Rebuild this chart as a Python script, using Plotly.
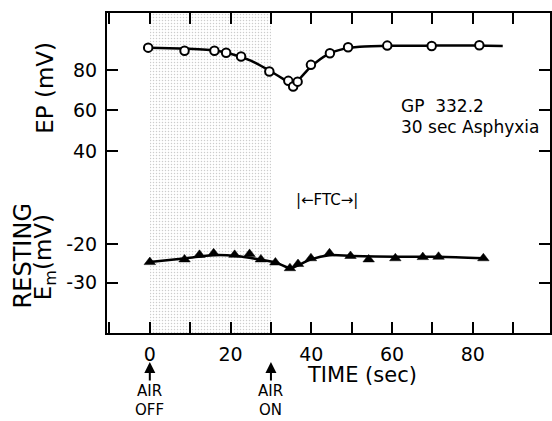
import plotly.graph_objects as go

# ---------------- data ----------------
# Endocochlear potential (EP, mV) - open circles
ep_time = [-0.4, 8.6, 16.0, 18.9, 22.6, 29.6, 34.3, 35.5, 36.6, 39.9, 44.6, 49.1, 58.8, 69.8, 81.6]
ep_val = [91.0, 89.5, 89.5, 88.5, 86.6, 79.2, 74.6, 71.8, 74.2, 82.5, 88.2, 91.2, 92.0, 91.8, 92.2]
# smooth fitted EP curve
ep_curve_time = [-0.4, 8, 16, 20, 25, 30, 33, 35.4, 37, 40, 44, 48, 52, 60, 70, 80, 87.4]
ep_curve_val = [91.0, 90.6, 89.6, 88.0, 84.6, 79.2, 75.6, 72.6, 75.4, 81.8, 87.6, 90.4, 91.4, 91.9, 92.0, 92.0, 91.8]

# Resting membrane potential (Em, mV) - filled triangles
em_time = [0.0, 8.6, 12.3, 15.8, 21.0, 24.7, 27.5, 31.1, 34.7, 36.7, 39.9, 44.5, 49.7, 54.2, 60.8, 67.6, 71.5, 82.6]
em_val = [-24.6, -23.9, -22.7, -22.3, -22.7, -22.5, -23.9, -24.7, -26.2, -25.1, -23.6, -22.3, -23.0, -23.9, -23.6, -23.3, -23.2, -23.6]
# smooth fitted Em curve
em_curve_time = [0.0, 9, 15.6, 21.4, 27.1, 31.2, 34.9, 37, 39.9, 44.4, 50.1, 60.8, 71.5, 82.6]
em_curve_val = [-24.6, -23.6, -22.8, -23.0, -23.9, -24.7, -26.2, -25.3, -23.9, -22.8, -23.0, -23.2, -23.2, -23.6]

# asphyxia period (air off -> air on), seconds
asphyxia = [0, 30]

x_major_dtick = 20
x_minor_dtick = 10
ep_tickvals = [40, 60, 80]
ep_ticktext = ["40", "60", "80"]
em_tickvals = [-20, -30]
em_ticktext = ["-20", "-30"]

# ---------------- layout geometry ----------------
W, H = 552, 421
ML, MR, MT, MB = 107, 0, 13, 88
PW = W - ML - MR
PH = H - MT - MB
X_RANGE = [-10.6, 99.1]
EP_RANGE = [-49.9, 108.1]
EM_RANGE = [-43.1, 40.4]
FONT = "DejaVu Sans"


def px_x(px):
    return (px - ML) / PW


def px_y(py):
    return (H - MB - py) / PH


fig = go.Figure()

# shaded asphyxia period (stippled)
fig.add_trace(go.Bar(
    x=[(asphyxia[0] + asphyxia[1]) / 2], width=[asphyxia[1] - asphyxia[0]],
    y=[EP_RANGE[1] - EP_RANGE[0]], base=[EP_RANGE[0]],
    marker=dict(color="white", line_width=0,
                pattern=dict(shape=".", fgcolor="#9a9a9a", bgcolor="white",
                             size=3, solidity=0.2)),
    yaxis="y", showlegend=False, hoverinfo="skip"))

# EP curve + points
fig.add_trace(go.Scatter(x=ep_curve_time, y=ep_curve_val, mode="lines",
                         line=dict(color="black", width=2.5, shape="spline", smoothing=0.8),
                         yaxis="y", showlegend=False, hoverinfo="skip"))
fig.add_trace(go.Scatter(x=ep_time, y=ep_val, mode="markers",
                         marker=dict(symbol="circle", size=8.5, color="white",
                                     line=dict(color="black", width=2)),
                         yaxis="y", showlegend=False))

# Em curve + points
fig.add_trace(go.Scatter(x=em_curve_time, y=em_curve_val, mode="lines",
                         line=dict(color="black", width=2.5, shape="spline", smoothing=0.8),
                         yaxis="y2", showlegend=False, hoverinfo="skip"))
fig.add_trace(go.Scatter(x=em_time, y=em_val, mode="markers",
                         marker=dict(symbol="triangle-up", size=10, color="black",
                                     line=dict(color="black", width=0.5)),
                         yaxis="y2", showlegend=False))

axis_common = dict(showline=True, linecolor="black", linewidth=2, mirror="ticks",
                   ticks="inside", ticklen=11, tickwidth=2, tickcolor="black",
                   showgrid=False, zeroline=False,
                   tickfont=dict(family=FONT, size=19, color="black"))

txt = dict(family=FONT, color="black")

annotations = [
    # axis titles
    dict(text="EP (mV)", x=px_x(44), y=px_y(87.5), xref="paper", yref="paper",
         textangle=-90, showarrow=False, xanchor="center", yanchor="middle",
         font=dict(size=23, **txt)),
    dict(text="RESTING", x=px_x(23), y=px_y(256), xref="paper", yref="paper",
         textangle=-90, showarrow=False, xanchor="center", yanchor="middle",
         font=dict(size=24, **txt)),
    dict(text="E<sub>m</sub>(mV)", x=px_x(45), y=px_y(257), xref="paper", yref="paper",
         textangle=-90, showarrow=False, xanchor="center", yanchor="middle",
         font=dict(size=23, **txt)),
    dict(text="TIME (sec)", x=px_x(363), y=px_y(375), xref="paper", yref="paper",
         showarrow=False, xanchor="center", yanchor="middle",
         font=dict(size=21, **txt)),
    # experiment label
    dict(text="GP\u00a0\u00a0332.2", x=61.6, y=62.2, xref="x", yref="y",
         showarrow=False, xanchor="left", yanchor="middle",
         font=dict(size=17, **txt)),
    dict(text="30 sec Asphyxia", x=61.6, y=51.9, xref="x", yref="y",
         showarrow=False, xanchor="left", yanchor="middle",
         font=dict(size=17, **txt)),
    # FTC
    dict(text="|\u2190FTC\u2192|", x=43.8, y=15.8, xref="x", yref="y",
         showarrow=False, xanchor="center", yanchor="middle",
         font=dict(size=15, **txt)),
    # air off / air on arrows (arrow from the "AIR" word up to the axis)
    dict(text="AIR", x=asphyxia[0], y=px_y(362), xref="x", yref="paper",
         showarrow=True, ax=0, ay=29, arrowhead=2, arrowsize=1.1, arrowwidth=2,
         arrowcolor="black", standoff=0, font=dict(size=15, **txt)),
    dict(text="OFF", x=asphyxia[0], y=px_y(410), xref="x", yref="paper",
         showarrow=False, xanchor="center", yanchor="middle", font=dict(size=15, **txt)),
    dict(text="AIR", x=asphyxia[1], y=px_y(362), xref="x", yref="paper",
         showarrow=True, ax=0, ay=29, arrowhead=2, arrowsize=1.1, arrowwidth=2,
         arrowcolor="black", standoff=0, font=dict(size=15, **txt)),
    dict(text="ON", x=asphyxia[1], y=px_y(410), xref="x", yref="paper",
         showarrow=False, xanchor="center", yanchor="middle", font=dict(size=15, **txt)),
]

fig.update_layout(
    width=W, height=H,
    margin=dict(l=ML, r=MR, t=MT, b=MB, pad=0),
    paper_bgcolor="white", plot_bgcolor="white",
    showlegend=False, bargap=0,
    xaxis=dict(range=X_RANGE, tick0=0, dtick=x_major_dtick, ticklabelstandoff=3,
               minor=dict(tick0=0, dtick=x_minor_dtick, ticks="inside", ticklen=11,
                          tickwidth=2, tickcolor="black", showgrid=False),
               **axis_common),
    yaxis=dict(range=EP_RANGE, tickmode="array", tickvals=ep_tickvals, ticktext=ep_ticktext,
               ticklabelstandoff=4, **axis_common),
    yaxis2=dict(range=EM_RANGE, overlaying="y", side="left", tickmode="array",
                tickvals=em_tickvals, ticktext=em_ticktext,
                ticklabelstandoff=4, **axis_common),
    annotations=annotations,
)

fig.write_html("out.html")
